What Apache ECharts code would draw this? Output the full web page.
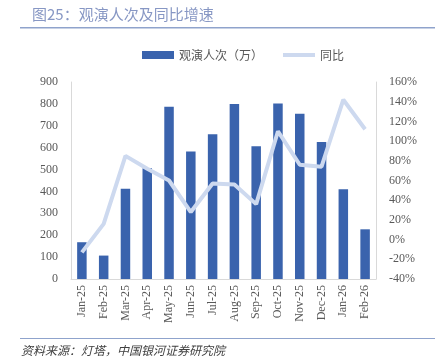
<!DOCTYPE html>
<html><head><meta charset="utf-8">
<script src="https://cdn.jsdelivr.net/npm/echarts@6/dist/echarts.min.js"></script>
<style>html,body{margin:0;padding:0;background:#fff}#c{width:435px;height:364px}</style>
</head><body><div id="c"></div>
<script>
const categories = ['Jan-25','Feb-25','Mar-25','Apr-25','May-25','Jun-25','Jul-25','Aug-25','Sep-25','Oct-25','Nov-25','Dec-25','Jan-26','Feb-26'];
const attendance = [168, 107, 412, 506, 787, 583, 661, 800, 606, 802, 755, 626, 410, 227];
const yoy = [-13, 16, 85, 72, 60, 28, 57, 56, 36, 110, 76, 74, 142, 112];
const leftTicks = [0, 900, 100];
const rightTicks = [-40, 160, 20];

const chart = echarts.init(document.getElementById('c'));
const serif = '"Liberation Serif","Noto Sans CJK SC",serif';
chart.setOption({
  animation: false,
  graphic: [
    {type:'text', left:32, top:7, style:{text:'图25：观演人次及同比增速', fill:'#8797c4', font:'15px "Noto Sans CJK SC"'}},
    {type:'rect', shape:{x:20, y:27, width:415, height:1.5}, style:{fill:'#8fa3cc'}},
    {type:'rect', shape:{x:20, y:338, width:415, height:1}, style:{fill:'#8fa3cc'}},
    {type:'text', left:21, top:344, style:{text:'资料来源：灯塔，中国银河证券研究院', fill:'#404040', font:'italic 12px "Noto Sans CJK SC"'}}
  ],
  legend: {
    top: 44, left: 137,
    itemWidth: 32, itemHeight: 8, itemGap: 20,
    textStyle: {color:'#595959', fontSize:12, fontFamily:'"Noto Sans CJK SC"'},
    data: [{name:'观演人次（万）', icon:'rect'}, {name:'同比', icon:'path://M0,0H32V4H0Z'}]
  },
  grid: {left: 71, right: 59, top: 82, bottom: 85},
  xAxis: {
    type: 'category', data: categories,
    axisLine: {lineStyle:{color:'#d9d9d9'}},
    axisTick: {show:false},
    axisLabel: {rotate: 90, color:'#595959', fontSize:12, fontFamily: serif, margin: 6, interval: 0}
  },
  yAxis: [
    {type:'value', min:leftTicks[0], max:leftTicks[1], interval:leftTicks[2],
     axisLine:{show:true, lineStyle:{color:'#d9d9d9'}}, splitLine:{show:false}, axisTick:{show:false},
     axisLabel:{color:'#595959', fontSize:12, fontFamily:serif, margin: 13}},
    {type:'value', min:rightTicks[0], max:rightTicks[1], interval:rightTicks[2],
     axisLine:{show:true, lineStyle:{color:'#d9d9d9'}}, splitLine:{show:false}, axisTick:{show:false},
     axisLabel:{color:'#595959', fontSize:12, fontFamily:serif, margin: 13, formatter: v => v + '%'}}
  ],
  series: [
    {name:'观演人次（万）', type:'bar', data: attendance, barWidth: 9.5, itemStyle:{color:'#3a63ad'}},
    {name:'同比', type:'line', yAxisIndex:1, data: yoy, symbol:'none', lineStyle:{color:'#cdd9ef', width:4}, itemStyle:{color:'#cdd9ef'}}
  ]
});
</script></body></html>
